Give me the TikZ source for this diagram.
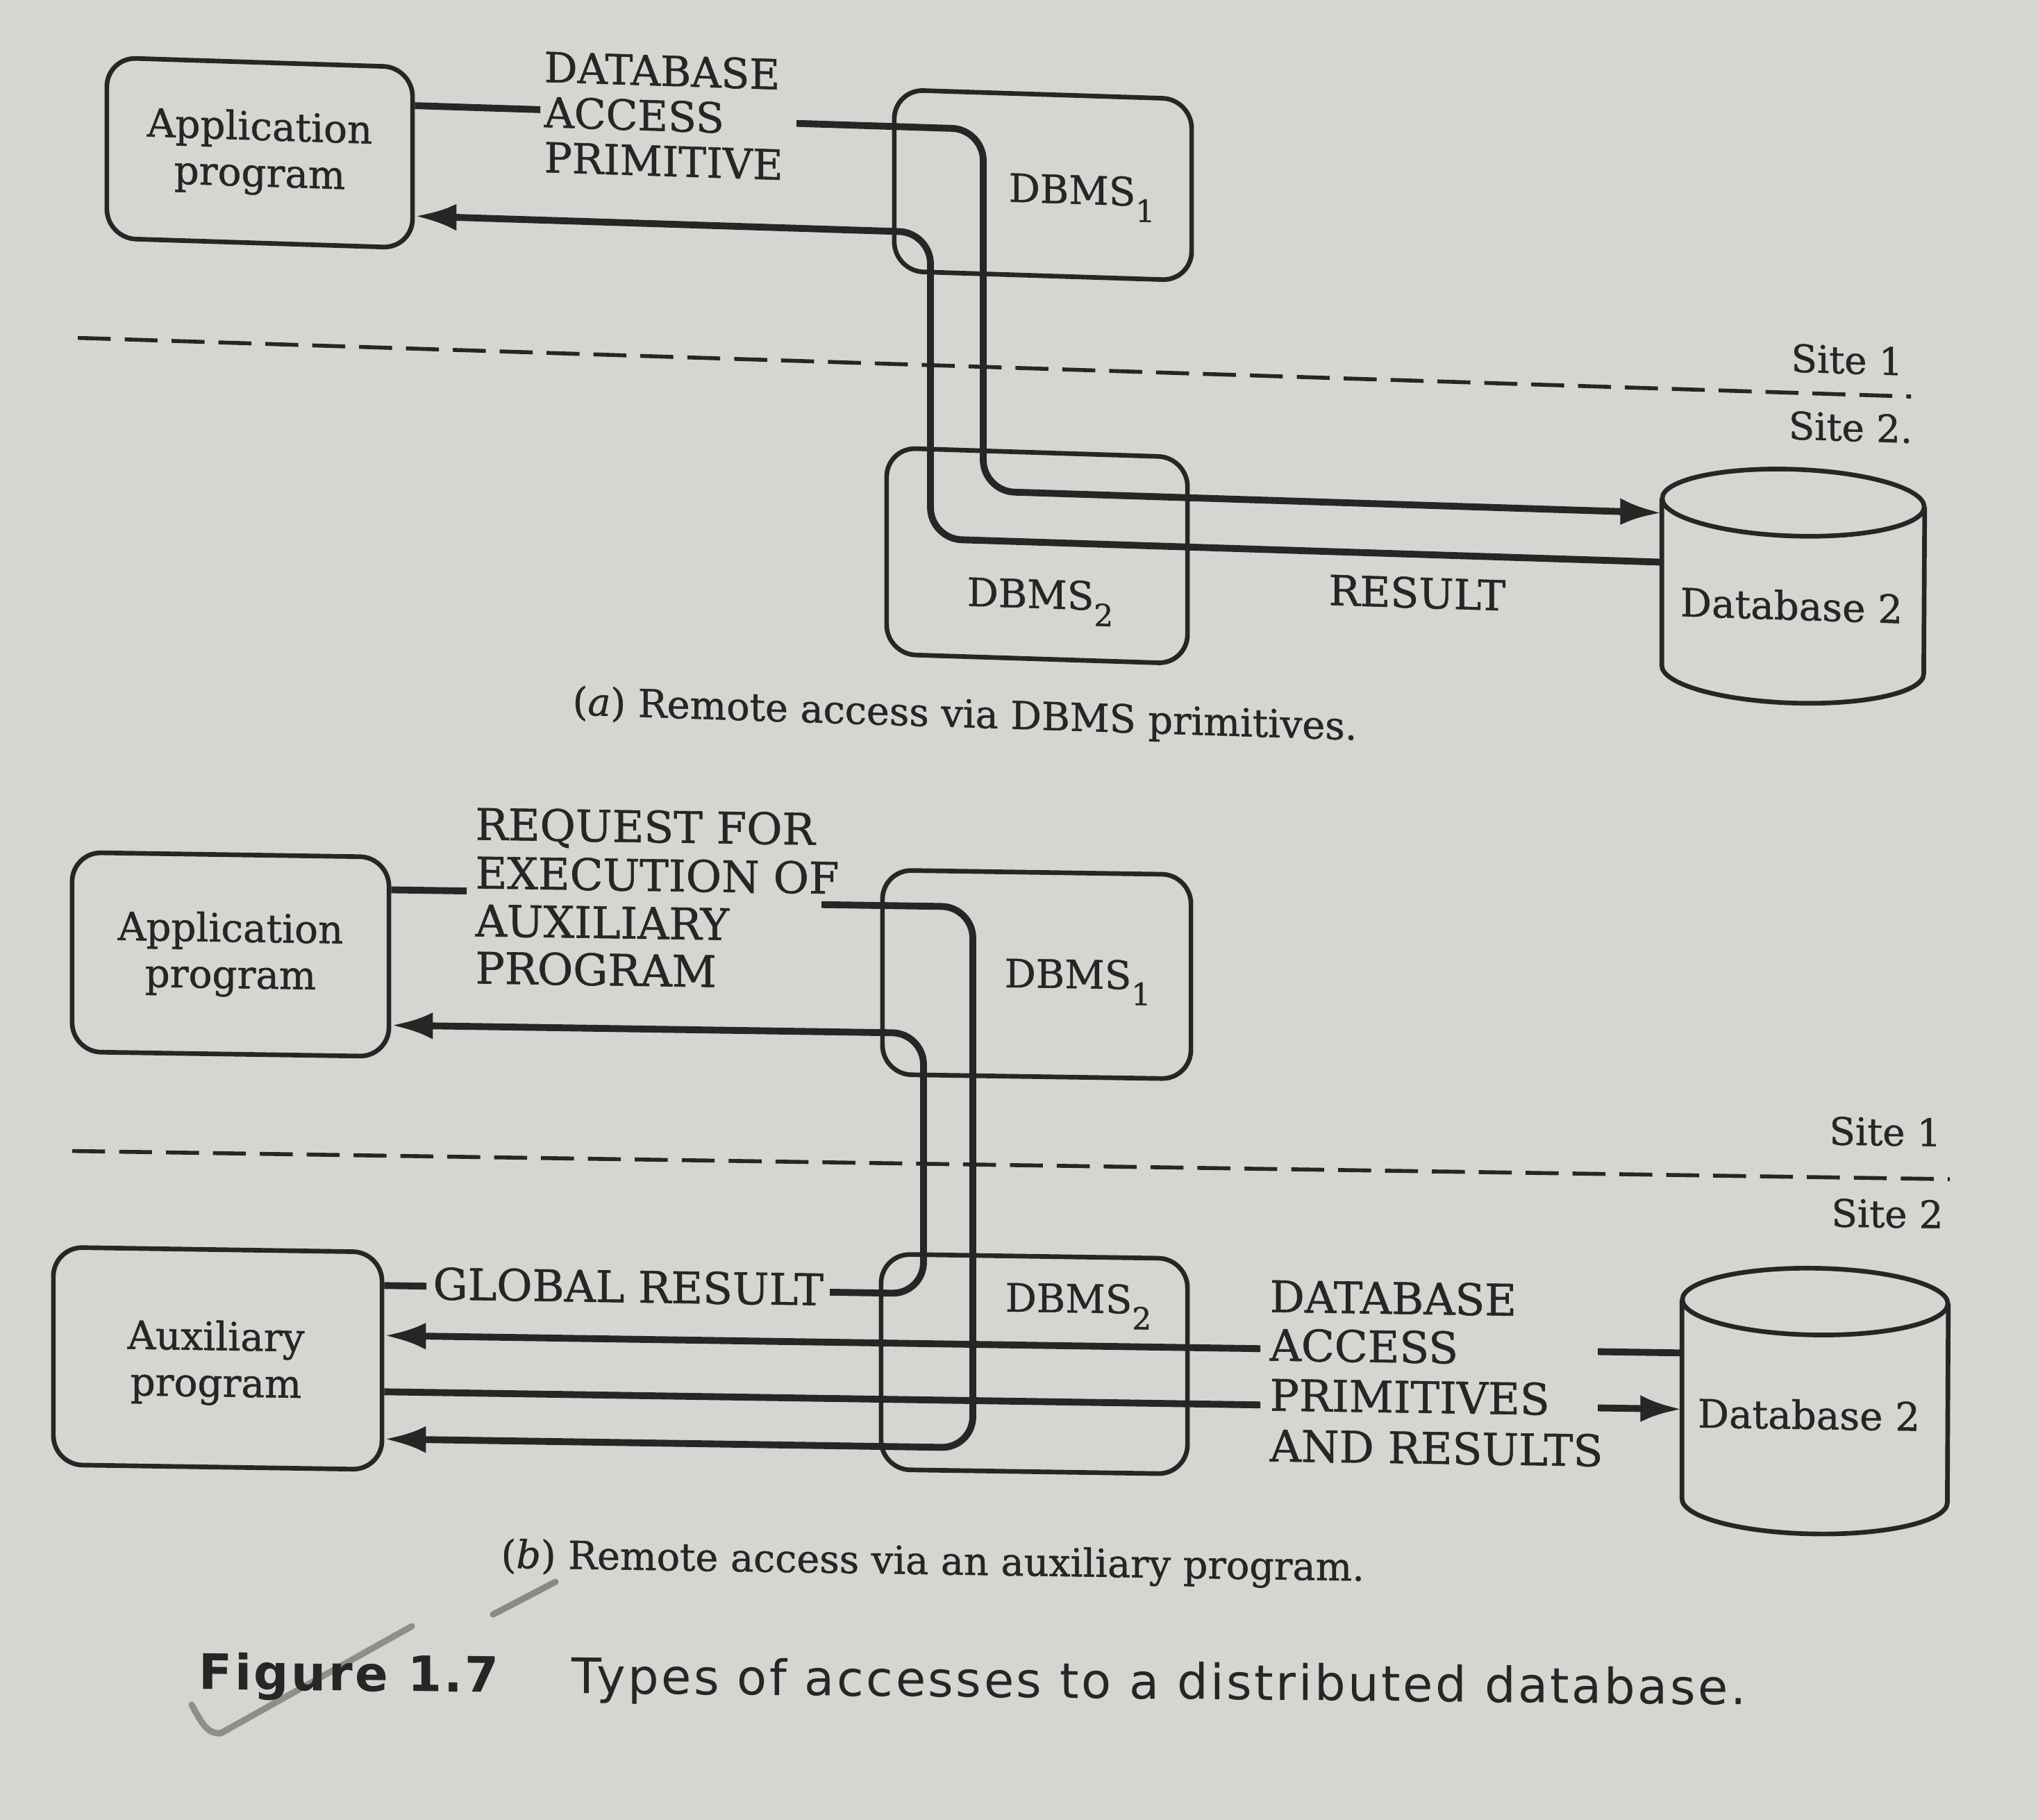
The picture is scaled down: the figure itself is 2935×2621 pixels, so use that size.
\documentclass[tikz,border=0pt]{standalone}
\usepackage{fontspec}
\setmainfont{DejaVu Serif}[FakeBold=0.9]
\newfontfamily\capfont[LetterSpace=5]{DejaVu Sans}
\usetikzlibrary{arrows.meta}

\definecolor{paper}{RGB}{213,213,210}
\definecolor{ink}{RGB}{38,38,38}
\definecolor{pencil}{RGB}{112,112,110}

% lowered, fairly large subscript digit used in the DBMS labels
\newcommand\subdig[1]{\raisebox{-6.5pt}{\fontsize{12.5}{12.5}\selectfont #1}}

\begin{document}
\begin{tikzpicture}[
  x=0.01cm, y=-0.01cm,
  box/.style={draw=ink, line width=1.9pt, rounded corners=0.42cm, inner sep=0pt},
  drum/.style={draw=ink, line width=1.9pt},
  link/.style={draw=ink, line width=2.8pt, rounded corners=0.45cm},
  head/.style={-{Latex[length=17pt,width=11pt]}},
  sitesep/.style={draw=ink, line width=1.6pt, dash pattern=on 13.5pt off 5.7pt},
  tagA/.style={text=ink, inner sep=0pt, anchor=base west, font=\fontsize{17}{20}\selectfont},
  tagB/.style={text=ink, inner sep=0pt, anchor=base west, font=\fontsize{17.8}{20}\selectfont},
  boxtext/.style={text=ink, inner sep=0pt, align=center, font=\fontsize{16}{19}\selectfont},
  sitetext/.style={text=ink, inner sep=0pt, font=\fontsize{15.5}{18}\selectfont},
  captext/.style={text=ink, inner sep=0pt, anchor=base west, font=\fontsize{15.8}{18}\selectfont},
  figtext/.style={text=ink, inner sep=0pt, anchor=base west},
  tick/.style={draw=pencil, line width=2.6pt, line cap=round, line join=round},
]
\fill[paper] (0,0) rectangle (2935,2621);
\useasboundingbox (0,0) rectangle (2935,2621);

% pencil ticks in the margin of the caption (under the printed text)
\draw[tick, opacity=0.7] (276,2455) .. controls (292,2485) and (300,2497) .. (318,2496) -- (593,2342);
\draw[tick, opacity=0.75] (710,2325) -- (800,2278);

% ---------------- (a) remote access via DBMS primitives ----------------
\begin{scope}[transform canvas={yslant=-0.032}]
  \node[box, minimum width=4.40cm, minimum height=2.60cm] (appA) at (374,208) {};
  \node[boxtext] (appAt) at (appA.center) {Application\\program};
  \node[box, minimum width=4.28cm, minimum height=2.61cm] (dbms1A) at (1502,218.5) {};
  \node[boxtext, anchor=base] (dbms1At) at (1558,244) {DBMS\subdig{1}};
  \node[box, minimum width=4.33cm, minimum height=2.97cm] (dbms2A) at (1493.5,752.5) {};
  \node[boxtext, anchor=base] (dbms2At) at (1498,828) {DBMS\subdig{2}};

  % database drum: north/south are the centres of the two end ellipses
  \node[inner sep=0pt, minimum width=3.77cm, minimum height=2.39cm] (dbA) at (2582.5,761.5) {};
  \draw[drum] (dbA.north west) -- (dbA.south west)
    arc[start angle=180, end angle=360, x radius=1.885cm, y radius=0.48cm] -- (dbA.north east);
  \draw[drum] (dbA.north) ellipse [x radius=1.885cm, y radius=0.48cm];
  \node[boxtext, anchor=base] (dbAt) at (2580,810) {Database 2};

  \node[tagA] (reqA1) at (783,93) {DATABASE};
  \node[tagA] (reqA2) at (783,158) {ACCESS};
  \node[tagA] (reqA3) at (783,223) {PRIMITIVE};
  \node[tagA, anchor=base] (resA) at (2041,810) {RESULT};

  \coordinate (reqAin) at (778,133);
  \coordinate (reqAout) at (1147,141);
  \coordinate (reqAbend) at (1416,662);
  \coordinate (resArow) at (2000,733);
  \coordinate (resAbend) at (1340,292);
  \draw[link] (appA.east |- reqAin) -- (reqAin);
  \draw[link, head] (reqAout) -| (reqAbend) -- (dbA.west |- reqAbend);
  \draw[link, head] (dbA.west |- resArow) -| (resAbend) -- (appA.east |- resAbend);

  \coordinate (sepAl) at (112,483);
  \coordinate (sepAr) at (2752,483);
  \draw[sitesep] (sepAl) -- (sepAr);
  \node[sitetext] (siteA1) at (2660,433) {Site 1};
  \node[sitetext] (siteA2) at (2665,530) {Site 2.};

  \node[captext] (capA) at (824,1003) {(\textit{a}) Remote access via DBMS primitives.};
\end{scope}

% ---------------- (b) remote access via an auxiliary program ----------------
\begin{scope}[transform canvas={yslant=-0.015}]
  \node[box, minimum width=4.56cm, minimum height=2.87cm] (appB) at (332,1369.5) {};
  \node[boxtext] (appBt) at (appB.center) {Application\\program};
  \node[box, minimum width=4.44cm, minimum height=2.94cm] (dbms1B) at (1493,1381) {};
  \node[boxtext, anchor=base] (dbms1Bt) at (1552,1400) {DBMS\subdig{1}};
  \node[box, minimum width=4.41cm, minimum height=3.10cm] (dbms2B) at (1489.5,1942) {};
  \node[boxtext, anchor=base] (dbms2Bt) at (1553,1867) {DBMS\subdig{2}};
  \node[box, minimum width=4.73cm, minimum height=3.13cm] (auxB) at (313.5,1951.5) {};
  \node[boxtext] (auxBt) at (311,1958) {Auxiliary\\program};

  \node[inner sep=0pt, minimum width=3.82cm, minimum height=2.85cm] (dbB) at (2614,1978.5) {};
  \draw[drum] (dbB.north west) -- (dbB.south west)
    arc[start angle=180, end angle=360, x radius=1.91cm, y radius=0.48cm] -- (dbB.north east);
  \draw[drum] (dbB.north) ellipse [x radius=1.91cm, y radius=0.48cm];
  \node[boxtext] (dbBt) at (2605,1998) {Database 2};

  \node[tagB] (reqB1) at (684,1199) {REQUEST FOR};
  \node[tagB] (reqB2) at (684,1269) {EXECUTION OF};
  \node[tagB] (reqB3) at (684,1338) {AUXILIARY};
  \node[tagB] (reqB4) at (684,1406) {PROGRAM};
  \node[tagB] (glob) at (623,1862) {GLOBAL RESULT};
  \node[tagB] (dapB1) at (1828,1862) {DATABASE};
  \node[tagB] (dapB2) at (1828,1932) {ACCESS};
  \node[tagB] (dapB3) at (1828,2004) {PRIMITIVES};
  \node[tagB] (dapB4) at (1828,2077) {AND RESULTS};

  % request for the auxiliary program, from site 1 down to site 2
  \coordinate (reqBin) at (672,1273);
  \coordinate (reqBout) at (1183,1285);
  \coordinate (reqBbend) at (1401,2064);
  \draw[link] (appB.east |- reqBin) -- (reqBin);
  \draw[link, head] (reqBout) -| (reqBbend) -- (auxB.east |- reqBbend);

  % global result back up to the application
  \coordinate (globL) at (614,1843);
  \coordinate (globR) at (1195,1843);
  \coordinate (retBbend) at (1330,1468);
  \draw[link] (auxB.east |- globL) -- (globL);
  \draw[link, head] (globR) -| (retBbend) -- (appB.east |- retBbend);

  % local primitives and results between auxiliary program and database
  \coordinate (rowB1) at (1815,1915);
  \coordinate (rowB2) at (1815,1996);
  \draw[link, head] (rowB1) -- (auxB.east |- rowB1);
  \draw[link] (auxB.east |- rowB2) -- (rowB2);
  \coordinate (dbB1) at (2301,1912);
  \coordinate (dbB2) at (2301,1993);
  \draw[link] (dbB.west |- dbB1) -- (dbB1);
  \draw[link, head] (dbB2) -- (dbB.west |- dbB2);

  \coordinate (sepBl) at (104,1656);
  \coordinate (sepBr) at (2808,1656);
  \draw[sitesep] (sepBl) -- (sepBr);
  \node[sitetext] (siteB1) at (2715,1589) {Site 1};
  \node[sitetext] (siteB2) at (2718,1707) {Site 2};

  \node[captext] (capB) at (721,2247) {(\textit{b}) Remote access via an auxiliary program.};
\end{scope}

% ---------------- figure caption ----------------
\begin{scope}[transform canvas={yslant=-0.01}]
  \node[figtext, font=\capfont\bfseries\fontsize{20}{24}\selectfont] (figno) at (286,2430) {Figure 1.7};
  \node[figtext, font=\capfont\fontsize{20}{24}\selectfont] (figtitle) at (823,2430) {Types of accesses to a distributed database.};
\end{scope}
\end{tikzpicture}
\end{document}
